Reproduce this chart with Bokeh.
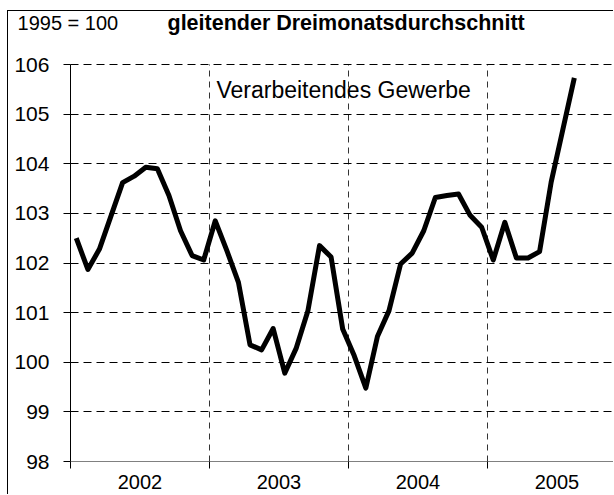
from bokeh.plotting import figure
from bokeh.models import FixedTicker, Label
from bokeh.embed import file_html
from bokeh.resources import INLINE

# ---- data ----
years = [2002, 2003, 2004, 2005]
year_labels = ["2002", "2003", "2004", "2005"]
months_2002 = [102.50, 101.87, 102.28, 102.95, 103.62, 103.75, 103.93, 103.90, 103.36, 102.65, 102.15, 102.06]
months_2003 = [102.85, 102.25, 101.61, 100.35, 100.25, 100.68, 99.78, 100.29, 101.04, 102.35, 102.12, 100.67]
months_2004 = [100.13, 99.48, 100.52, 101.04, 101.98, 102.20, 102.65, 103.32, 103.36, 103.39, 102.96, 102.72]
months_2005 = [102.06, 102.82, 102.10, 102.10, 102.23, 103.63, 104.68, 105.73]
y_ticks = [98, 99, 100, 101, 102, 103, 104, 105, 106]

series = [months_2002, months_2003, months_2004, months_2005]
xs, ys = [], []
for yr, vals in zip(years, series):
    for m, v in enumerate(vals):
        xs.append(yr + (m + 0.5) / 12.0)
        ys.append(v)

FONT = "Liberation Sans"
X_START, X_END = 2001.554, 2005.914
Y_START, Y_END = 97.315, 107.068

p = figure(width=606, height=484, output_backend="svg", toolbar_location=None,
           title_location=None,
           x_range=(X_START, X_END), y_range=(Y_START, Y_END),
           min_border_left=0, min_border_top=0, min_border_bottom=0, min_border_right=0)
p.styles = {"margin-left": "7px", "margin-top": "10px",
            "border-left": "1px solid black", "border-top": "1px solid black"}
p.outline_line_color = None
p.background_fill_color = "white"
p.border_fill_color = "white"

p.line(xs, ys, line_color="black", line_width=5, line_join="round")

# y axis drawn inside the frame at the first year boundary
p.yaxis.fixed_location = years[0]
p.yaxis.bounds = (y_ticks[0], y_ticks[-1])
p.yaxis.ticker = FixedTicker(ticks=y_ticks)
p.yaxis.axis_line_color = "black"
p.yaxis.major_tick_line_color = "black"
p.yaxis.major_tick_out = 7
p.yaxis.major_tick_in = 0
p.yaxis.minor_tick_line_color = None
p.yaxis.major_label_text_font = FONT
p.yaxis.major_label_text_font_size = "21px"
p.yaxis.major_label_text_color = "black"
p.yaxis.major_label_standoff = 14

# x axis drawn at the bottom value: labels mid-year, ticks at year boundaries
mids = [y + 0.5 for y in years]
p.xaxis.fixed_location = y_ticks[0]
p.xaxis.bounds = (years[0], X_END)
p.xaxis.ticker = FixedTicker(ticks=mids, minor_ticks=years)
p.xaxis.major_label_overrides = {m: lab for m, lab in zip(mids, year_labels)}
p.xaxis.major_tick_line_color = None
p.xaxis.major_tick_out = 0
p.xaxis.major_tick_in = 0
p.xaxis.minor_tick_line_color = "black"
p.xaxis.minor_tick_out = 7
p.xaxis.minor_tick_in = 0
p.xaxis.axis_line_color = "#808080"
p.xaxis.major_label_text_font = FONT
p.xaxis.major_label_text_font_size = "20px"
p.xaxis.major_label_text_color = "black"
p.xaxis.major_label_standoff = 6

# grids
p.ygrid.ticker = FixedTicker(ticks=y_ticks[1:])
p.ygrid.cross_bounds = (years[0], X_END)
p.ygrid.grid_line_color = "black"
p.ygrid.grid_line_dash = "8 5"
p.ygrid.grid_line_width = 1
p.xgrid.ticker = FixedTicker(ticks=years[1:])
p.xgrid.cross_bounds = (y_ticks[0], y_ticks[-1])
p.xgrid.grid_line_color = "#333333"
p.xgrid.grid_line_dash = "6 5"
p.xgrid.grid_line_width = 1

p.add_layout(Label(x=2001.619, y=106.619, text="1995 = 100",
                   text_font=FONT, text_font_size="20px", text_color="black"))
p.add_layout(Label(x=2002.698, y=106.585, text="gleitender Dreimonatsdurchschnitt",
                   text_font=FONT, text_font_size="21.5px", text_font_style="bold",
                   text_color="black"))
p.add_layout(Label(x=2003.050, y=105.228, text="Verarbeitendes Gewerbe",
                   text_font=FONT, text_font_size="23px", text_color="black"))

open("out.html", "w").write(file_html(p, INLINE))
